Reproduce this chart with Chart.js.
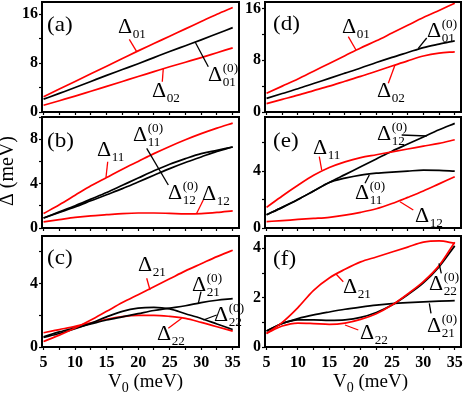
<!DOCTYPE html>
<html>
<head>
<meta charset="utf-8">
<script src="https://cdn.jsdelivr.net/npm/chart.js@4.4.1/dist/chart.umd.min.js"></script>
<style>
  html, body { margin: 0; padding: 0; background: #fff; }
  #wrap { position: relative; width: 463px; height: 395px; }
  #wrap canvas { position: absolute; left: 0; top: 0; }
</style>
</head>
<body>
<div id="wrap">
  <canvas id="pa" width="463" height="395"></canvas>
  <canvas id="pb" width="463" height="395"></canvas>
  <canvas id="pc" width="463" height="395"></canvas>
  <canvas id="pd" width="463" height="395"></canvas>
  <canvas id="pe" width="463" height="395"></canvas>
  <canvas id="pf" width="463" height="395"></canvas>
</div>
<script>
// V0 grid (meV)
const v0 = [5, 7.5, 10, 12.5, 15, 17.5, 20, 22.5, 25, 27.5, 30, 32.5, 35];

// (a)
const aD01  = [2.5, 3.75, 5.0, 6.25, 7.5, 8.75, 10.0, 11.2, 12.4, 13.6, 14.8, 16.0, 17.1];
const aD01z = [2.1, 3.05, 4.0, 5.0, 6.0, 6.95, 7.9, 8.9, 9.9, 10.85, 11.8, 12.8, 13.8];
const aD02  = [1.1, 1.85, 2.6, 3.4, 4.2, 5.0, 5.8, 6.6, 7.4, 8.15, 8.9, 9.7, 10.5];
// (b)
const bD11  = [1.3, 2.1, 2.95, 3.8, 4.55, 5.3, 6.0, 6.7, 7.35, 7.95, 8.5, 9.0, 9.45];
const bD11z = [0.9, 1.45, 2.0, 2.6, 3.2, 3.85, 4.5, 5.15, 5.75, 6.25, 6.7, 7.0, 7.3];
const bD12z = [0.9, 1.4, 1.9, 2.45, 3.0, 3.55, 4.15, 4.75, 5.35, 5.9, 6.4, 6.9, 7.3];
const bD12  = [0.55, 0.75, 0.95, 1.1, 1.2, 1.3, 1.35, 1.35, 1.32, 1.28, 1.3, 1.4, 1.55];
// (c)
const cD21  = [0.35, 0.75, 1.2, 1.7, 2.25, 2.8, 3.3, 3.8, 4.3, 4.8, 5.25, 5.7, 6.1];
const cD21z = [0.65, 0.95, 1.2, 1.45, 1.7, 1.9, 2.1, 2.3, 2.45, 2.6, 2.8, 2.95, 3.05];
const cD22z = [0.6, 0.85, 1.15, 1.5, 1.9, 2.25, 2.45, 2.5, 2.4, 2.1, 1.8, 1.45, 1.1];
const cD22  = [0.9, 1.1, 1.3, 1.52, 1.75, 1.92, 2.0, 2.0, 1.93, 1.8, 1.55, 1.28, 1.0];
// (d)
const dD01  = [2.9, 4.0, 5.1, 6.3, 7.5, 8.7, 9.9, 11.0, 12.2, 13.4, 14.6, 15.7, 16.8];
const dD01z = [2.1, 2.85, 3.6, 4.4, 5.2, 6.0, 6.8, 7.65, 8.45, 9.2, 9.95, 10.5, 11.0];
const dD02  = [1.3, 1.95, 2.6, 3.3, 4.0, 4.75, 5.5, 6.3, 7.1, 7.9, 8.65, 9.1, 9.3];
// (e)
const eD11  = [1.45, 2.25, 3.0, 3.7, 4.25, 4.65, 4.95, 5.15, 5.35, 5.55, 5.75, 5.95, 6.2];
const eD12z = [0.93, 1.45, 2.0, 2.6, 3.2, 3.75, 4.3, 4.85, 5.4, 5.9, 6.4, 6.9, 7.35];
const eD11z = [0.93, 1.45, 2.0, 2.6, 3.2, 3.5, 3.72, 3.85, 3.93, 4.0, 4.06, 4.05, 4.0];
const eD12  = [0.45, 0.52, 0.6, 0.67, 0.75, 0.9, 1.1, 1.35, 1.72, 2.15, 2.6, 3.1, 3.6];
// (f)
const fD21  = [0.55, 1.0, 1.6, 2.3, 2.8, 3.15, 3.45, 3.65, 3.85, 4.05, 4.25, 4.3, 4.2];
const fD22  = [0.55, 0.85, 0.97, 0.95, 0.92, 0.97, 1.12, 1.35, 1.7, 2.15, 2.65, 3.3, 4.25];
const fD22z = [0.65, 0.95, 1.1, 1.1, 1.08, 1.1, 1.2, 1.4, 1.7, 2.12, 2.6, 3.25, 4.1];
const fD21z = [0.65, 0.95, 1.15, 1.3, 1.42, 1.53, 1.62, 1.7, 1.76, 1.8, 1.83, 1.86, 1.88];

const SERIF = '"Liberation Serif", "Times New Roman", serif';
const RED = '#ff0000';
const BLK = '#000000';
const W = 463, H = 395;

function deltaLabel(ctx, x, y, sub, sup) {
  ctx.save();
  ctx.translate(x, y);
  ctx.scale(1.1, 1);
  ctx.font = '20px ' + SERIF;
  ctx.fillText('\u0394', 0, 0);
  const w = ctx.measureText('\u0394').width;
  ctx.font = '12px ' + SERIF;
  ctx.fillText(sub, w + 0.5, 5);
  if (sup) ctx.fillText(sup, w + 0.5, -9);
  ctx.restore();
}

const decor = {
  id: 'decor',
  afterDatasetsDraw(chart, args, o) {
    const ctx = chart.ctx, a = chart.chartArea;
    ctx.save();
    ctx.strokeStyle = '#000';
    ctx.lineWidth = 2;
    ctx.strokeRect(a.left, a.top, a.right - a.left, a.bottom - a.top);
    ctx.lineWidth = 1.3;
    o.leaders.forEach(l => {
      ctx.strokeStyle = l[4] === 'r' ? RED : BLK;
      ctx.beginPath();
      ctx.moveTo(l[0], l[1]);
      ctx.lineTo(l[2], l[3]);
      ctx.stroke();
    });
    ctx.fillStyle = '#000';
    ctx.textBaseline = 'alphabetic';
    ctx.textAlign = 'left';
    ctx.save();
    ctx.translate(o.letter[1], o.letter[2]);
    ctx.scale(1.1, 1);
    ctx.font = '21px ' + SERIF;
    ctx.fillText(o.letter[0], 0, 0);
    ctx.restore();
    o.labels.forEach(l => deltaLabel(ctx, l[0], l[1], l[2], l[3]));
    if (o.ytitle) {
      ctx.save();
      ctx.translate(o.ytitle[0], o.ytitle[1]);
      ctx.rotate(-Math.PI / 2);
      ctx.textAlign = 'center';
      ctx.font = '20px ' + SERIF;
      ctx.fillText('\u0394 (meV)', 0, 0);
      ctx.restore();
    }
    if (o.xtitle) {
      let x = o.xtitle[0];
      const y = o.xtitle[1];
      ctx.font = '19px ' + SERIF;
      ctx.fillText('V', x, y);
      x += ctx.measureText('V').width;
      ctx.font = '14px ' + SERIF;
      ctx.fillText('0', x, y + 5);
      x += ctx.measureText('0').width;
      ctx.font = '19px ' + SERIF;
      ctx.fillText(' (meV)', x, y);
    }
    ctx.restore();
  }
};

function line(arr, color) {
  return {
    data: v0.map((x, i) => ({ x: x, y: arr[i] })),
    borderColor: color,
    borderWidth: 1.7,
    pointRadius: 0,
    fill: false,
    cubicInterpolationMode: 'monotone'
  };
}

function fixBox(size, horiz) {
  return s => {
    if (horiz) s.height = size; else s.width = size;
    s.paddingLeft = s.paddingRight = s.paddingTop = s.paddingBottom = 0;
  };
}

function panel(id, area, ymax, ystep, ymajor, showX, series, deco) {
  const YW = 30, XH = 26;
  new Chart(document.getElementById(id), {
    type: 'line',
    data: { datasets: series },
    options: {
      responsive: false,
      animation: false,
      events: [],
      devicePixelRatio: 1,
      layout: { padding: { left: area[0] - YW, top: area[1], right: W - area[2], bottom: H - area[3] - XH } },
      plugins: { legend: { display: false }, tooltip: { enabled: false }, decor: deco },
      scales: {
        x: {
          type: 'linear', min: 4.75, max: 36,
          afterFit: fixBox(XH, true),
          border: { display: false },
          grid: { drawOnChartArea: false, tickLength: 3, tickWidth: 1.2, tickColor: '#000' },
          ticks: {
            stepSize: 2.5, includeBounds: false, autoSkip: false, maxRotation: 0, minRotation: 0,
            padding: 3, color: '#000',
            font: { family: SERIF, size: 16, weight: 'bold' },
            callback: v => (showX && v % 5 === 0 ? String(v) : '')
          }
        },
        y: {
          type: 'linear', min: 0, max: ymax,
          afterFit: fixBox(YW, false),
          border: { display: false },
          grid: { drawOnChartArea: false, tickLength: 3, tickWidth: 1.2, tickColor: '#000' },
          ticks: {
            stepSize: ystep, includeBounds: false, autoSkip: false,
            padding: 1, color: '#000',
            font: { family: SERIF, size: 16, weight: 'bold' },
            callback: v => (Math.abs(v % ymajor) < 1e-6 ? String(v) : '')
          }
        }
      }
    },
    plugins: [decor]
  });
}

// left column
panel('pa', [42, 2, 239, 112], 18, 4, 8, false,
  [line(aD01, RED), line(aD01z, BLK), line(aD02, RED)],
  { letter: ['(a)', 47, 31],
    labels: [[118, 33, '01'], [208, 81, '01', '(0)'], [152, 97, '02']],
    leaders: [[129.3, 39.3, 136.7, 51.7, 'r'], [195, 41.7, 208.3, 66.7, 'k'], [163.3, 68.3, 162.3, 81.7, 'r']] });

panel('pb', [42, 117, 239, 228], 10, 2, 4, false,
  [line(bD11, RED), line(bD11z, BLK), line(bD12z, BLK), line(bD12, RED)],
  { letter: ['(b)', 47, 147],
    labels: [[97, 156, '11'], [133, 141, '11', '(0)'], [168, 199, '12', '(0)'], [202, 200, '12']],
    leaders: [[107.7, 161.7, 106, 177.3, 'r'], [146.7, 148.3, 168.3, 185, 'k'], [203.3, 200, 196.7, 213.3, 'r']],
    ytitle: [13, 171] });

panel('pc', [42, 236, 239, 347], 7, 2, 4, true,
  [line(cD21, RED), line(cD21z, BLK), line(cD22z, BLK), line(cD22, RED)],
  { letter: ['(c)', 47, 264],
    labels: [[138, 271, '21'], [192, 291, '21', '(0)'], [214, 321, '22', '(0)'], [157, 340, '22']],
    leaders: [[146.7, 278.3, 150, 290, 'r'], [201, 291.7, 198.3, 303.3, 'k'], [216.7, 315, 203.3, 320, 'k'], [168.3, 328.3, 181.7, 318.3, 'r']],
    xtitle: [108, 387] });

// right column
panel('pd', [265, 2, 461, 112], 17, 4, 8, false,
  [line(dD01, RED), line(dD01z, BLK), line(dD02, RED)],
  { letter: ['(d)', 273, 30],
    labels: [[342, 33, '01'], [427, 37, '01', '(0)'], [377, 97, '02']],
    leaders: [[348.3, 36.7, 356, 50, 'r'], [426.7, 38, 418.3, 48.3, 'k'], [388.3, 83.3, 395, 65, 'r']] });

panel('pe', [265, 117, 461, 228], 7.8, 2, 4, false,
  [line(eD11, RED), line(eD12z, BLK), line(eD11z, BLK), line(eD12, RED)],
  { letter: ['(e)', 273, 147],
    labels: [[313, 154, '11'], [377, 140, '12', '(0)'], [355, 199, '11', '(0)'], [415, 222, '12']],
    leaders: [[319.3, 156.7, 321.7, 170, 'r'], [401.7, 135, 426.7, 136, 'k'], [365, 183.3, 369.3, 175, 'k'], [413.3, 210, 400, 201.7, 'r']] });

panel('pf', [265, 236, 461, 347], 4.5, 1, 2, true,
  [line(fD21, RED), line(fD22, RED), line(fD22z, BLK), line(fD21z, BLK)],
  { letter: ['(f)', 273, 265],
    labels: [[343, 293, '21'], [360, 339, '22'], [429, 290, '22', '(0)'], [427, 332, '21', '(0)']],
    leaders: [[343.3, 281.7, 336, 274, 'r'], [358.3, 330, 345, 325, 'r'], [441.3, 273.3, 439, 263.3, 'k'], [431, 313.3, 429.3, 303.3, 'k']],
    xtitle: [333, 387] });
</script>
</body>
</html>
